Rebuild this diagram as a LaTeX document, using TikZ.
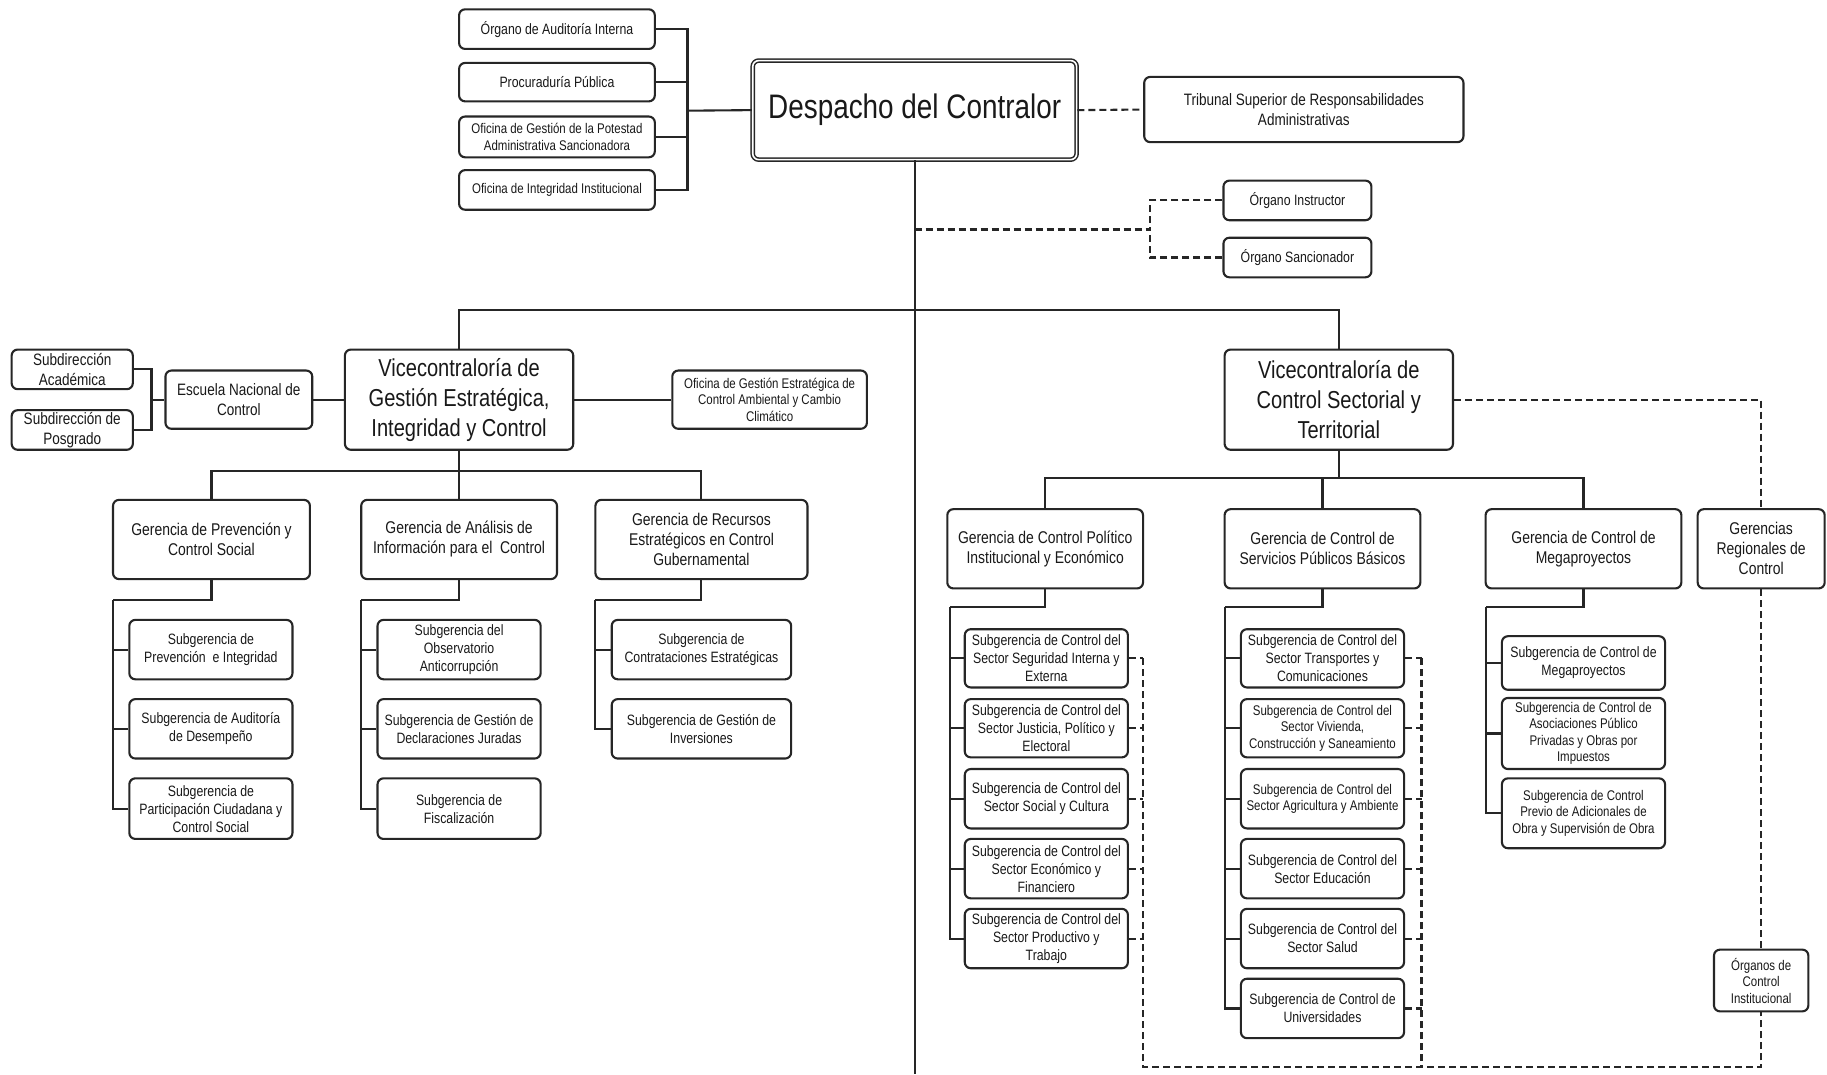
\documentclass[tikz,border=0pt]{standalone}
\usepackage{fontspec}
\setmainfont{Liberation Sans}[FakeStretch=0.82]
\usetikzlibrary{calc}
\def\sc{1.1652}
\newcommand\fzHuge{\fontsize{34}{40}\selectfont}
\newcommand\fzBig{\fontsize{24.5}{30}\selectfont}
\newcommand\fzGer{\fontsize{17}{20}\selectfont}
\newcommand\fzEsc{\fontsize{16.5}{20}\selectfont}
\newcommand\fzSub{\fontsize{15}{18}\selectfont}
\newcommand\fzSm{\fontsize{14}{16.5}\selectfont}
\newcommand\obox[7][]{%
 \pgfmathsetmacro\bw{(#5-#3)*\sc}%
 \pgfmathsetmacro\bh{(#6-#4)*\sc}%
 \node[box,minimum width=\bw pt,minimum height=\bh pt,#1] (#2) at ({(#3+#5)/2},{(#4+#6)/2}) {#7};}
\begin{document}
\begin{tikzpicture}[x=1.1652pt,y=-1.1652pt,
  box/.style={draw=black!85, line width=2.1pt, rounded corners=6pt, fill=white, align=center, inner sep=0pt, font=\fzSub, text=black!90},
  conn/.style={draw=black!85, line width=2.1pt},
  dconn/.style={draw=black!85, line width=2.1pt, dash pattern=on 7pt off 4pt},
  ger/.style={font=\fzGer},
  esc/.style={font=\fzEsc},
  sm/.style={font=\fzSm},
  big/.style={font=\fzBig},
  huge/.style={font=\fzHuge, double=white, double distance=1.6pt, line width=1.5pt}]
\useasboundingbox (0,0) rectangle (1568,922);
\fill[white] (0,0) rectangle (1568,922);

% ---- top level
\obox{oai}{394}{8}{562}{42}{Órgano de Auditoría Interna}
\obox{pp}{394}{54}{562}{87}{Procuraduría Pública}
\obox[sm]{ogp}{394}{100}{562}{135}{Oficina de Gestión de la Potestad\\Administrativa Sancionadora}
\obox[sm]{oii}{394}{146}{562}{180}{Oficina de Integridad Institucional}
\obox[huge]{dc}{646}{52}{924}{137}{Despacho del Contralor}
\obox[esc]{tsr}{982}{66}{1256}{122}{Tribunal Superior de Responsabilidades\\Administrativas}
\obox{oin}{1050}{155}{1177}{189}{Órgano Instructor}
\obox{osa}{1050}{204}{1177}{238}{Órgano Sancionador}

\coordinate (b1) at (590,95);
\draw[conn] (oai.east) -| (b1);
\draw[conn] (pp.east) -| (b1);
\draw[conn] (ogp.east) -| (b1);
\draw[conn] (oii.east) -| (b1);
\draw[conn] (b1) -- (dc.west);
\draw[dconn] (dc.east) -- (tsr.west);
\coordinate (c0) at (785,197);
\coordinate (c1) at (987,197);
\draw[dconn] (c0) -- (c1);
\draw[dconn] (oin.west) -| (c1);
\draw[dconn] (osa.west) -| (c1);
\coordinate (bot) at (785,922);
\draw[conn] (dc.south) -- (bot);

% ---- vicecontralorias
\obox[big]{vge}{296}{300}{492}{386}{Vicecontraloría de\\Gestión Estratégica,\\Integridad y Control}
\obox[big]{vcs}{1051}{300}{1247}{386}{Vicecontraloría de\\Control Sectorial y\\Territorial}
\coordinate (h1) at (785,266);
\draw[conn] (vge.north) |- (h1);
\draw[conn] (vcs.north) |- (h1);

\obox[esc]{enc}{142}{318}{268}{368}{Escuela Nacional de\\Control}
\obox[esc]{sa}{10}{300}{114}{334}{Subdirección\\Académica}
\obox[esc]{sp}{10}{352}{114}{386}{Subdirección de\\Posgrado}
\obox[sm]{oge}{577}{318}{744}{368}{Oficina de Gestión Estratégica de\\Control Ambiental y Cambio\\Climático}
\coordinate (b2) at (130,343);
\draw[conn] (sa.east) -| (b2);
\draw[conn] (sp.east) -| (b2);
\draw[conn] (b2) -- (enc.west);
\draw[conn] (enc.east) -- (vge.west);
\draw[conn] (vge.east) -- (oge.west);

% ---- left gerencias
\obox[ger]{g1}{97}{429}{266}{497}{Gerencia de Prevención y\\Control Social}
\obox[ger]{g2}{310}{429}{478}{497}{Gerencia de Análisis de\\Información para el~ Control}
\obox[ger]{g3}{511}{429}{693}{497}{Gerencia de Recursos\\Estratégicos en Control\\Gubernamental}
\coordinate (h2) at (394,404);
\draw[conn] (vge.south) -- (g2.north);
\draw[conn] (g1.north) |- (h2);
\draw[conn] (g3.north) |- (h2);

\obox{s11}{111}{532}{251}{583}{Subgerencia de\\Prevención~ e Integridad}
\obox{s12}{111}{600}{251}{651}{Subgerencia de Auditoría\\de Desempeño}
\obox{s13}{111}{668}{251}{720}{Subgerencia de\\Participación Ciudadana y\\Control Social}
\coordinate (v1) at (97,515);
\draw[conn] (g1.south) |- (v1);
\foreach \s in {s11,s12,s13} \draw[conn] (v1) |- (\s.west);

\obox{s21}{324}{532}{464}{583}{Subgerencia del\\Observatorio\\Anticorrupción}
\obox{s22}{324}{600}{464}{651}{Subgerencia de Gestión de\\Declaraciones Juradas}
\obox{s23}{324}{668}{464}{720}{Subgerencia de\\Fiscalización}
\coordinate (v2) at (310,515);
\draw[conn] (g2.south) |- (v2);
\foreach \s in {s21,s22,s23} \draw[conn] (v2) |- (\s.west);

\obox{s31}{525}{532}{679}{583}{Subgerencia de\\Contrataciones Estratégicas}
\obox{s32}{525}{600}{679}{651}{Subgerencia de Gestión de\\Inversiones}
\coordinate (v3) at (511,515);
\draw[conn] (g3.south) |- (v3);
\foreach \s in {s31,s32} \draw[conn] (v3) |- (\s.west);

% ---- right gerencias
\obox[ger]{gp}{813}{437}{981}{505}{Gerencia de Control Político\\Institucional y Económico}
\obox[ger]{gs}{1051}{437}{1219}{505}{Gerencia de Control de\\Servicios Públicos Básicos}
\obox[ger]{gm}{1275}{437}{1443}{505}{Gerencia de Control de\\Megaproyectos}
\obox[ger]{gr}{1457}{437}{1566}{505}{Gerencias\\Regionales de\\Control}
\coordinate (h3) at (1149,410);
\draw[conn] (vcs.south) -- (h3);
\draw[conn] (gp.north) |- (h3);
\draw[conn] (gs.north) |- (h3);
\draw[conn] (gm.north) |- (h3);
\draw[dconn] (vcs.east) -| (gr.north);

\obox{p1}{828}{540}{968}{590}{Subgerencia de Control del\\Sector Seguridad Interna y\\Externa}
\obox{p2}{828}{600}{968}{650}{Subgerencia de Control del\\Sector Justicia, Político y\\Electoral}
\obox{p3}{828}{660}{968}{711}{Subgerencia de Control del\\Sector Social y Cultura}
\obox{p4}{828}{720}{968}{771}{Subgerencia de Control del\\Sector Económico y\\Financiero}
\obox{p5}{828}{780}{968}{831}{Subgerencia de Control del\\Sector Productivo y\\Trabajo}
\coordinate (v4) at (815,521);
\draw[conn] (gp.south) |- (v4);
\foreach \s in {p1,p2,p3,p4,p5} \draw[conn] (v4) |- (\s.west);

\obox{q1}{1065}{540}{1205}{590}{Subgerencia de Control del\\Sector Transportes y\\Comunicaciones}
\obox[sm]{q2}{1065}{600}{1205}{650}{Subgerencia de Control del\\Sector Vivienda,\\Construcción y Saneamiento}
\obox[sm]{q3}{1065}{660}{1205}{711}{Subgerencia de Control del\\Sector Agricultura y Ambiente}
\obox{q4}{1065}{720}{1205}{771}{Subgerencia de Control del\\Sector Educación}
\obox{q5}{1065}{780}{1205}{831}{Subgerencia de Control del\\Sector Salud}
\obox{q6}{1065}{840}{1205}{891}{Subgerencia de Control de\\Universidades}
\coordinate (v5) at (1051,521);
\draw[conn] (gs.south) |- (v5);
\foreach \s in {q1,q2,q3,q4,q5,q6} \draw[conn] (v5) |- (\s.west);

\obox{m1}{1289}{546}{1429}{592}{Subgerencia de Control de\\Megaproyectos}
\obox[sm]{m2}{1289}{599}{1429}{660}{Subgerencia de Control de\\Asociaciones Público\\Privadas y Obras por\\Impuestos}
\obox[sm]{m3}{1289}{668}{1429}{728}{Subgerencia de Control\\Previo de Adicionales de\\Obra y Supervisión de Obra}
\coordinate (v6) at (1275,521);
\draw[conn] (gm.south) |- (v6);
\foreach \s in {m1,m2,m3} \draw[conn] (v6) |- (\s.west);

\obox[sm]{oci}{1471}{815}{1552}{868}{Órganos de\\Control\\Institucional}

% ---- dashed control lines
\coordinate (d1t) at (981,565);
\coordinate (d1b) at (981,916);
\coordinate (d2t) at (1220,565);
\coordinate (d2b) at (1220,916);
\coordinate (d3b) at (1511.5,916);
\foreach \s in {p1,p2,p3,p4,p5} \draw[dconn] (\s.east) -- (\s.east -| d1t);
\foreach \s in {q1,q2,q3,q4,q5,q6} \draw[dconn] (\s.east) -- (\s.east -| d2t);
\draw[dconn] (d1t) -- (d1b) -- (d3b) -- (oci.south);
\draw[dconn] (d2t) -- (d2b);
\draw[dconn] (gr.south) -- (oci.north);
\end{tikzpicture}
\end{document}
